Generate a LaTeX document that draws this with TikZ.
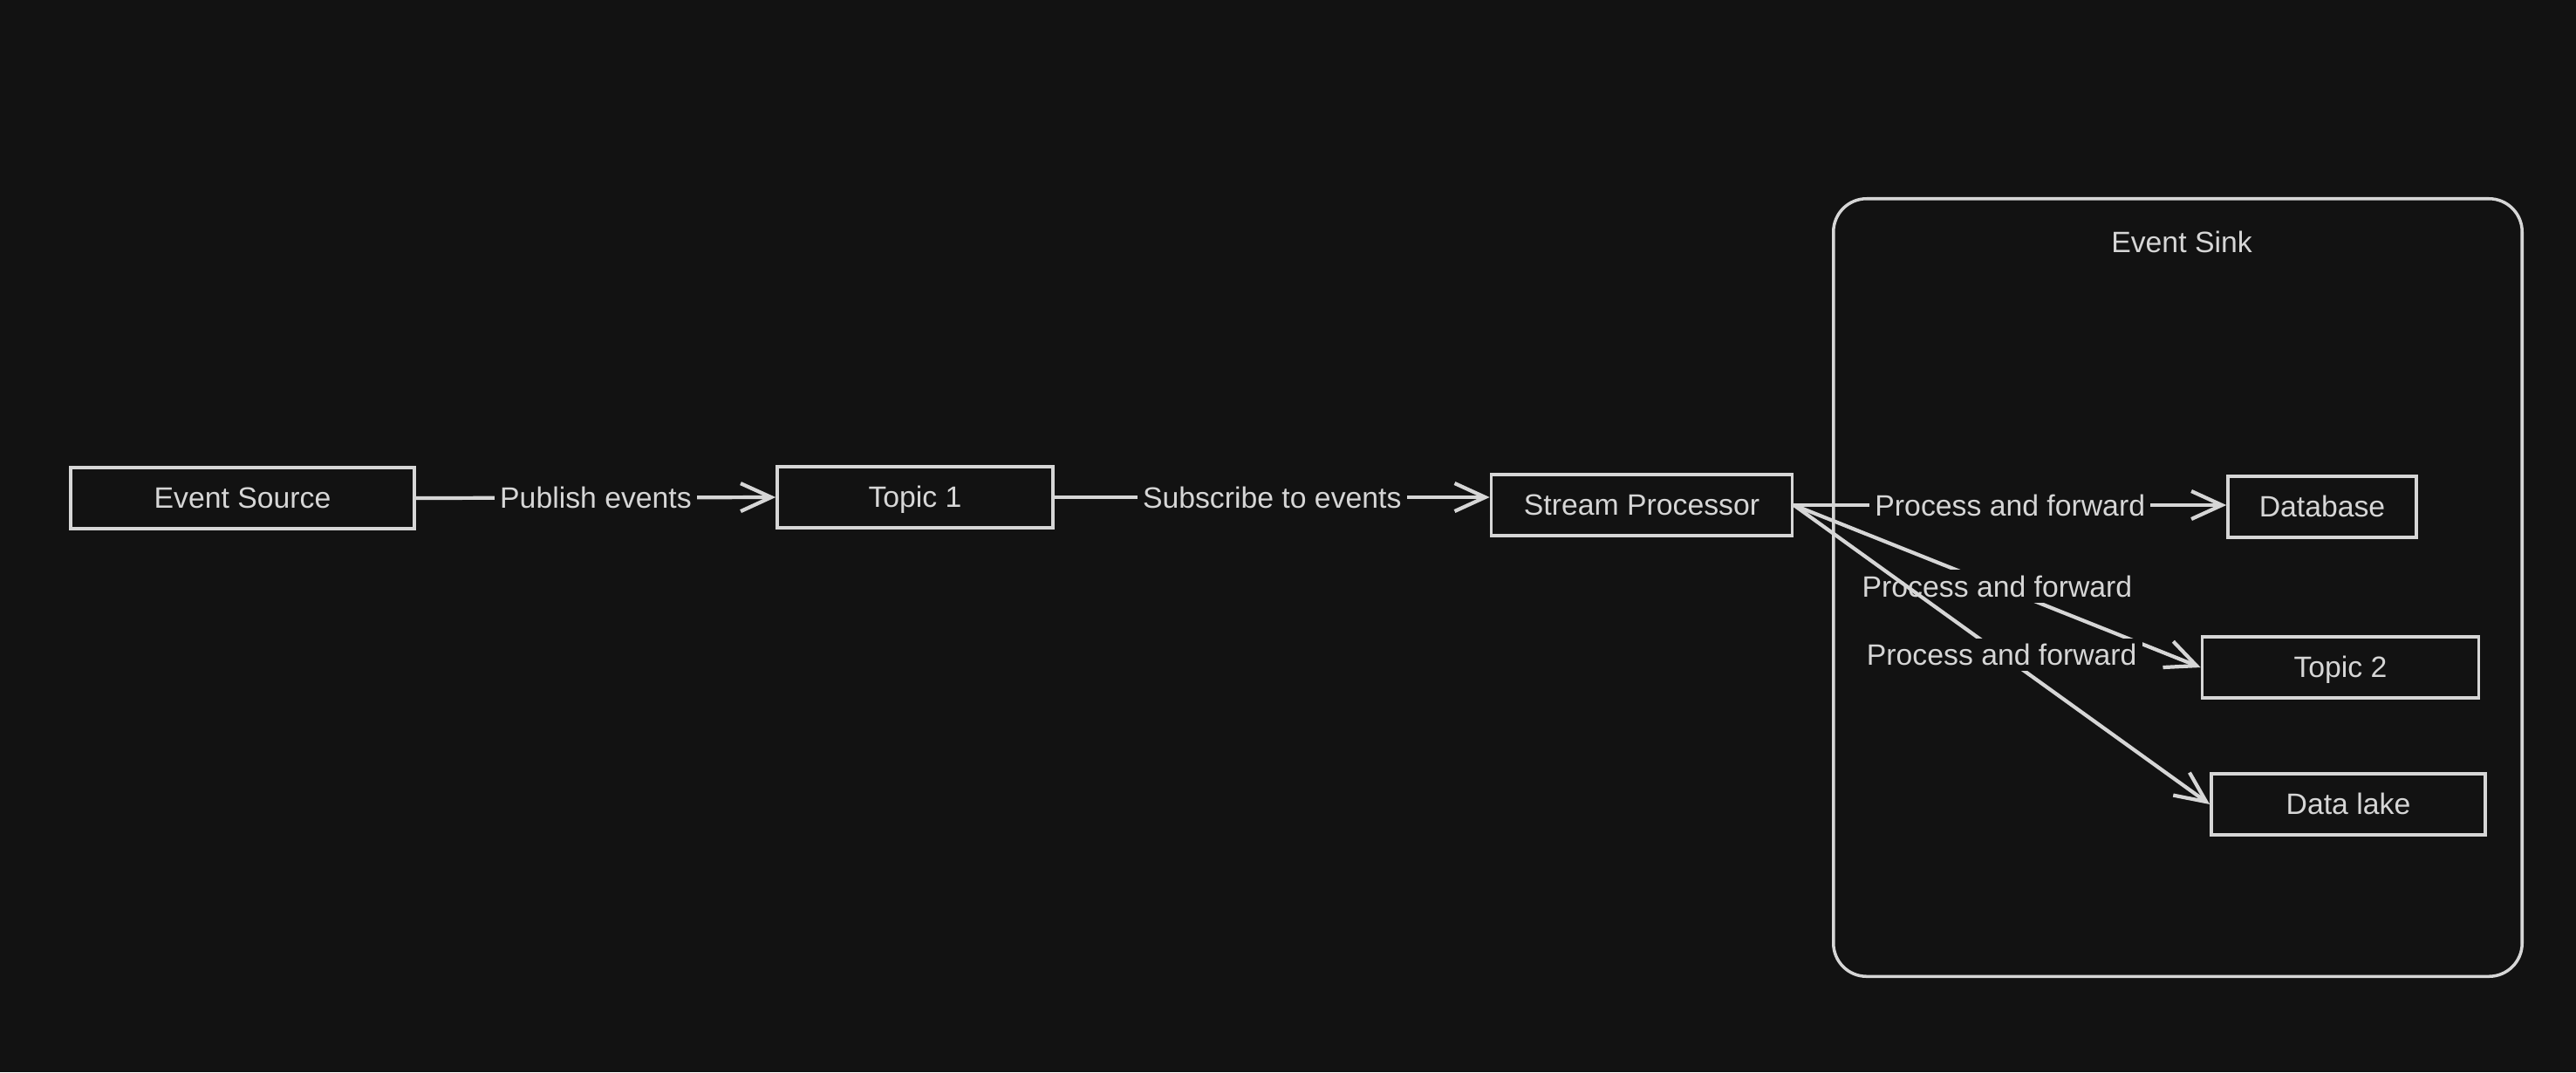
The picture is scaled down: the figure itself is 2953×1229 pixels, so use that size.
\documentclass[tikz,border=0pt]{standalone}
\usepackage{fontspec}
\setmainfont{Liberation Sans}
\usetikzlibrary{arrows.meta}
\definecolor{bg}{HTML}{121212}
\definecolor{ink}{HTML}{D6D6D6}
\tikzset{flow/.style={-{Straight Barb[length=3.5mm,width=3.2mm]}, draw=ink, line width=1.2pt}}

\begin{document}
\begin{tikzpicture}[x=0.01cm,y=-0.01cm, every node/.style={font=\fontsize{9.6}{11}\selectfont, text=ink}]
				\tikzstyle{RECT} = [draw=ink, line width=1pt, minimum height=0.7cm, inner sep=0pt, text height=1.6ex, text depth=0.4ex]
				\tikzstyle{lbl} = [fill=bg, inner sep=1.8pt]
				
				\fill[bg] (0,0) rectangle (2953,1229);
				\useasboundingbox (0,0) rectangle (2953,1229);
				
				% event sink container
				\node[draw=ink, line width=1pt, minimum width=7.89cm, minimum height=8.91cm, rounded corners=0.38cm] (sink) at (2496.5,673.5) {};
				\node[] (sinktitle) at (2501,277) {Event Sink};
				
				\node[RECT, minimum width=3.94cm] (src)  at (278,571) {Event Source};
				\node[RECT, minimum width=3.16cm] (topic1) at (1049,570) {Topic 1};
				\node[RECT, minimum width=3.45cm] (proc) at (1882,579) {Stream Processor};
				
				\node[RECT, minimum width=2.16cm] (db)    at (2662,581) {Database};
				\node[RECT, minimum width=3.17cm] (topic2) at (2683,765) {Topic 2};
				\node[RECT, minimum width=3.14cm] (lake)  at (2692,922) {Data lake};
				
				\draw[flow] (src.east) -- (topic1.west) node [midway,lbl] {Publish events};
				\draw[flow] (topic1.east) -- (topic1.east -| proc.west) node [midway,lbl] {Subscribe to events};
				
				% fan out to the sinks
				\draw[flow] (proc.east) -- (proc.east -| db.west) node [midway,lbl] {Process and forward};
				\draw[flow] (proc.east) -- (topic2.west) node [midway,lbl] {Process and forward};
				\draw[flow] (proc.east) -- (lake.west) node [midway,lbl] {Process and forward};
				
			\end{tikzpicture}
\end{document}
